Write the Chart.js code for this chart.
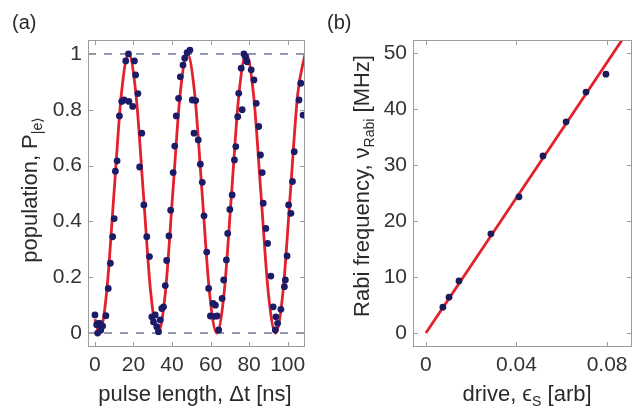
<!DOCTYPE html>
<html>
<head>
<meta charset="utf-8">
<script src="https://cdn.jsdelivr.net/npm/chart.js@4"></script>
<style>
  body { margin: 0; background: #fff; }
  #wrap { position: relative; width: 639px; height: 409px; }
  .box { position: absolute; top: 0; height: 409px; }
</style>
</head>
<body>
<div id="wrap">
  <div class="box" style="left:0;width:320px"><canvas id="chartA"></canvas></div>
  <div class="box" style="left:320px;width:319px"><canvas id="chartB"></canvas></div>
</div>
<script>
// (a) measured population vs pulse length
const pulseT = [0, 0.9, 1.4, 1.7, 2.6, 3.0, 4.0, 5.7,
  6.9, 8.0, 9.2, 10.0, 10.6, 11.5, 12.7, 13.9, 15.1, 16.0, 17.4, 17.6, 19.6, 20.5, 21.1, 22.3, 23.2, 24.3,
  25.4, 26.9, 28.3, 29.5, 30.4, 31.3, 32.1, 33.0, 33.9,
  34.7, 35.6, 36.5, 37.2, 38.4, 39.3, 40.6, 41.4, 42.2, 43.4, 44.3, 45.7, 46.6, 47.8, 49.3,
  50.5, 51.4, 52.3, 53.6, 54.7, 55.7, 56.6, 58.0, 59.0, 59.9, 61.3, 62.0, 62.5, 63.4, 64.2,
  66.0, 66.8, 68.2, 68.9, 70.0, 71.2, 72.4, 73.1, 74.1, 74.6, 75.9, 76.4, 77.3, 78.1, 78.9,
  81.1, 82.5, 83.7, 85.0, 85.9, 86.8, 87.3, 88.7, 89.6, 91.3, 92.5, 93.6, 93.9, 94.8, 96.5,
  98.3, 98.8, 99.7, 100.5, 101.7, 102.5, 103.4, 105.9, 106.8, 108.0];
const population = [0.065, 0.03, 0.0, 0.035, 0.035, 0.01, 0.025, 0.062,
  0.16, 0.25, 0.345, 0.41, 0.58, 0.617, 0.778, 0.83, 0.835, 0.975, 1.0, 0.83, 0.812, 0.975, 0.925, 0.858, 0.595, 0.716,
  0.459, 0.345, 0.274, 0.058, 0.04, 0.065, 0.023, 0.005, 0.047,
  0.088, 0.094, 0.17, 0.26, 0.348, 0.44, 0.575, 0.67, 0.778, 0.841, 0.918, 0.96, 0.985, 1.005, 1.014,
  0.835, 0.716, 0.833, 0.692, 0.605, 0.54, 0.42, 0.29, 0.16, 0.061, 0.106, 0.06, 0.1, 0.061, 0.011,
  0.124, 0.19, 0.262, 0.357, 0.443, 0.495, 0.62, 0.668, 0.775, 0.859, 0.949, 0.8, 1.0, 0.99, 0.972,
  0.943, 0.907, 0.823, 0.74, 0.638, 0.575, 0.465, 0.375, 0.321, 0.204, 0.094, 0.011, 0.058, 0.035, 0.085,
  0.166, 0.19, 0.276, 0.459, 0.429, 0.543, 0.65, 0.835, 0.895, 0.781];

// (a) red fit curve
const fitT = [0, 2.25, 6.06, 9.88, 13.69, 17.5, 21.31, 25.13, 28.94, 32.75, 36.56, 40.38, 44.19, 48,
  51.81, 55.63, 59.44, 63.25, 67.06, 70.88, 74.69, 78.5, 82.31, 86.13, 89.94, 93.75, 97.56, 101.38, 105.19, 109];
const fitP = [0.05, 0, 0.146, 0.5, 0.854, 1, 0.854, 0.5, 0.146, 0, 0.146, 0.5, 0.854, 1,
  0.854, 0.5, 0.146, 0, 0.146, 0.5, 0.854, 1, 0.854, 0.5, 0.146, 0, 0.146, 0.5, 0.854, 1];
const guideT = [-3.6, 109];

const xTicksA = [0, 20, 40, 60, 80, 100];
const yTicksA = [0, 0.2, 0.4, 0.6, 0.8, 1];
const yLabelsA = ['0', '0.2', '0.4', '0.6', '0.8', '1'];

// (b) Rabi frequency vs drive
const drive = [0.0075, 0.0102, 0.0146, 0.0287, 0.0411, 0.0517, 0.0619, 0.0707, 0.0795];
const rabiFreq = [4.6, 6.4, 9.3, 17.7, 24.3, 31.6, 37.7, 43.0, 46.2];
const lineDrive = [0, 0.0866];
const lineFreq = [0, 52.3];

const xTicksB = [0, 0.04, 0.08];
const xLabelsB = ['0', '0.04', '0.08'];
const yTicksB = [0, 10, 20, 30, 40, 50];

const FONT = '"Liberation Sans", Arial, "DejaVu Sans", sans-serif';
Chart.defaults.font.family = FONT;
Chart.defaults.color = '#333';

const pts = (xs, ys) => xs.map((x, i) => ({x: x, y: ys[i]}));

// text with subscripts, centred on (0,0) of the current transform
function drawRich(ctx, parts, size) {
  const fontOf = p => (p.sub ? Math.round(size * 0.62) : size) + 'px ' + FONT;
  let total = 0;
  parts.forEach(p => { ctx.font = fontOf(p); p.w = ctx.measureText(p.t).width; total += p.w; });
  let x = -total / 2;
  ctx.textBaseline = 'alphabetic';
  ctx.textAlign = 'left';
  parts.forEach(p => {
    ctx.font = fontOf(p);
    ctx.fillText(p.t, x, p.sub ? size * 0.22 : 0);
    x += p.w;
  });
}

function decor(cfg) {
  return {
    id: 'decor',
    afterDatasetsDraw(chart) {
      const {ctx, chartArea: a, scales: {x, y}} = chart;
      ctx.save();
      ctx.strokeStyle = '#9c9c9c';
      ctx.lineWidth = 1;
      ctx.strokeRect(a.left + 0.5, a.top + 0.5, a.width - 1, a.height - 1);
      ctx.beginPath();
      x.ticks.forEach(t => {
        const px = Math.round(x.getPixelForValue(t.value)) + 0.5;
        ctx.moveTo(px, a.bottom); ctx.lineTo(px, a.bottom - 5);
        ctx.moveTo(px, a.top); ctx.lineTo(px, a.top + 5);
      });
      y.ticks.forEach(t => {
        const py = Math.round(y.getPixelForValue(t.value)) + 0.5;
        ctx.moveTo(a.left, py); ctx.lineTo(a.left + 5, py);
        ctx.moveTo(a.right, py); ctx.lineTo(a.right - 5, py);
      });
      ctx.stroke();

      ctx.fillStyle = '#2a2a2a';
      ctx.font = '20px ' + FONT;
      ctx.textBaseline = 'alphabetic';
      ctx.textAlign = 'left';
      ctx.fillText(cfg.panel, cfg.panelX, 29);

      ctx.save();
      ctx.translate(cfg.xTitleX, 401);
      drawRich(ctx, cfg.xTitle, 22);
      ctx.restore();

      ctx.save();
      ctx.translate(cfg.yTitleX, cfg.yTitleY);
      ctx.rotate(-Math.PI / 2);
      drawRich(ctx, cfg.yTitle, 22);
      ctx.restore();
      ctx.restore();
    }
  };
}

const fixedTicks = vals => s => { s.ticks = vals.map(v => ({value: v})); };

new Chart(document.getElementById('chartA'), {
  type: 'scatter',
  data: {
    datasets: [{
      data: pts(pulseT, population),
      pointRadius: 3.4,
      pointBorderWidth: 0,
      pointBackgroundColor: '#1b1b68'
    }, {
      type: 'line',
      data: pts(fitT, fitP),
      borderColor: '#e3202c',
      borderWidth: 2.8,
      pointRadius: 0,
      cubicInterpolationMode: 'monotone'
    }, {
      type: 'line',
      data: pts(guideT, [1, 1]),
      borderColor: '#6f7898',
      borderWidth: 1.5,
      borderDash: [8, 8],
      pointRadius: 0
    }, {
      type: 'line',
      data: pts(guideT, [0, 0]),
      borderColor: '#6f7898',
      borderWidth: 1.5,
      borderDash: [8, 8],
      pointRadius: 0
    }]
  },
  options: {
    responsive: true,
    maintainAspectRatio: false,
    animation: false,
    layout: {padding: {left: 0, right: 15, top: 40, bottom: 0}},
    plugins: {legend: {display: false}, tooltip: {enabled: false}},
    scales: {
      x: {
        type: 'linear', min: -3.6, max: 109,
        afterBuildTicks: fixedTicks(xTicksA),
        afterFit: s => { s.height = 62; },
        grid: {display: false, drawTicks: false},
        border: {display: false},
        ticks: {font: {size: 21}, padding: 6}
      },
      y: {
        type: 'linear', min: -0.05, max: 1.05,
        afterBuildTicks: fixedTicks(yTicksA),
        afterFit: s => { s.width = 88; },
        grid: {display: false, drawTicks: false},
        border: {display: false},
        ticks: {font: {size: 21}, padding: 6, callback: v => yLabelsA[yTicksA.indexOf(v)]}
      }
    }
  },
  plugins: [decor({
    panel: '(a)', panelX: 12,
    xTitleX: 195, xTitle: [{t: 'pulse length, \u0394t [ns]'}],
    yTitleX: 37, yTitleY: 190,
    yTitle: [{t: 'population, P'}, {t: '|e\u27E9', sub: true}]
  })]
});

new Chart(document.getElementById('chartB'), {
  type: 'scatter',
  data: {
    datasets: [{
      data: pts(drive, rabiFreq),
      pointRadius: 3.4,
      pointBorderWidth: 0,
      pointBackgroundColor: '#1b1b58'
    }, {
      type: 'line',
      data: pts(lineDrive, lineFreq),
      borderColor: '#e3202c',
      borderWidth: 2.8,
      pointRadius: 0
    }]
  },
  options: {
    responsive: true,
    maintainAspectRatio: false,
    animation: false,
    layout: {padding: {left: 0, right: 7, top: 40, bottom: 0}},
    plugins: {legend: {display: false}, tooltip: {enabled: false}},
    scales: {
      x: {
        type: 'linear', min: -0.0057, max: 0.091,
        afterBuildTicks: fixedTicks(xTicksB),
        afterFit: s => { s.height = 62; },
        grid: {display: false, drawTicks: false},
        border: {display: false},
        ticks: {font: {size: 21}, padding: 6, callback: v => xLabelsB[xTicksB.indexOf(v)]}
      },
      y: {
        type: 'linear', min: -2.5, max: 52.3,
        afterBuildTicks: fixedTicks(yTicksB),
        afterFit: s => { s.width = 93; },
        grid: {display: false, drawTicks: false},
        border: {display: false},
        ticks: {font: {size: 21}, padding: 6}
      }
    }
  },
  plugins: [decor({
    panel: '(b)', panelX: 7,
    xTitleX: 207, xTitle: [{t: 'drive, \u03F5'}, {t: 'S', sub: true}, {t: ' [arb]'}],
    yTitleX: 49, yTitleY: 186,
    yTitle: [{t: 'Rabi frequency, \u03BD'}, {t: 'Rabi', sub: true}, {t: ' [MHz]'}]
  })]
});
</script>
</body>
</html>
